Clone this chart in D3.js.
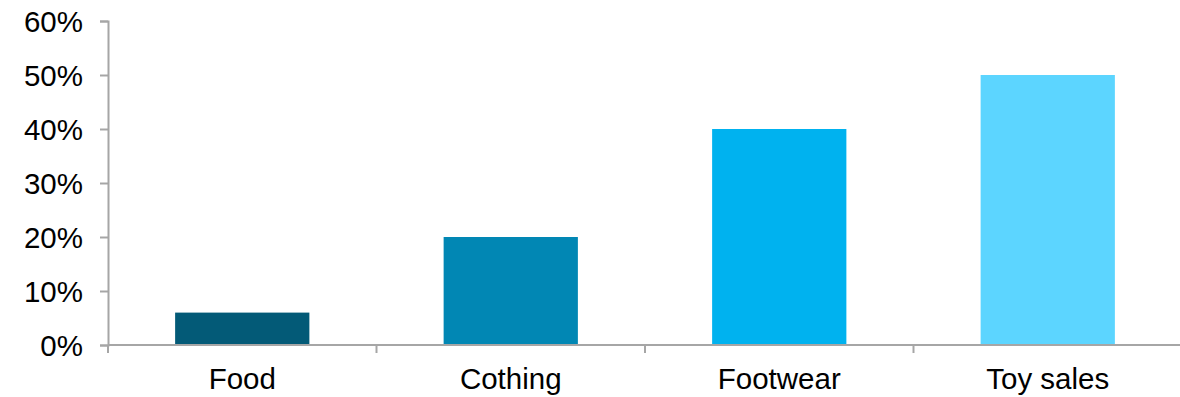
<!DOCTYPE html>
<html>
<head>
<meta charset="utf-8">
<script src="https://cdn.jsdelivr.net/npm/d3@7"></script>
<style>
  html, body { margin: 0; padding: 0; background: #fff; }
  svg { display: block; font-family: "Liberation Sans", Arial, sans-serif; }
</style>
</head>
<body>
<svg id="chart" width="1180" height="397"></svg>
<script>
// Share of sales by category
const categories = ["Food", "Cothing", "Footwear", "Toy sales"];
const values = [0.06, 0.20, 0.40, 0.50];
const barColors = ["#035a77", "#0187b4", "#00b2ef", "#5cd5ff"];
const yTicks = [0, 0.1, 0.2, 0.3, 0.4, 0.5, 0.6];

const svg = d3.select("#chart");
const axisColor = "#a6a6a6";
const fontSize = "29.5px";

const x = d3.scaleBand()
  .domain(categories)
  .range([108, 1182])
  .paddingInner(0.5)
  .paddingOuter(0.25);

const y = d3.scaleLinear()
  .domain([0, 0.6])
  .range([345, 21]);

// bars
svg.append("g")
  .selectAll("rect")
  .data(categories)
  .join("rect")
  .attr("x", d => x(d))
  .attr("width", x.bandwidth())
  .attr("y", (d, i) => y(values[i]))
  .attr("height", (d, i) => y(0) - y(values[i]))
  .attr("fill", (d, i) => barColors[i]);

// y axis
const yAxis = svg.append("g")
  .attr("transform", "translate(108,0)")
  .call(d3.axisLeft(y).tickValues(yTicks).tickFormat(d3.format(".0%")).tickSize(8).tickPadding(17));
yAxis.select(".domain").attr("stroke", axisColor).attr("stroke-width", 2);
yAxis.selectAll(".tick line").attr("stroke", axisColor).attr("stroke-width", 2);
yAxis.selectAll(".tick text")
  .attr("fill", "#000")
  .style("font-size", fontSize)
  .attr("dy", "0.35em");

// x axis: ticks at band boundaries
const xAxisG = svg.append("g").attr("transform", "translate(0,345)");
xAxisG.append("line")
  .attr("x1", 108).attr("x2", 1182)
  .attr("stroke", axisColor).attr("stroke-width", 2);
const boundaries = categories.map(c => x(c) - x.bandwidth() / 2).concat([1182]);
xAxisG.selectAll("line.tick")
  .data(boundaries)
  .join("line")
  .attr("class", "tick")
  .attr("x1", d => d).attr("x2", d => d)
  .attr("y1", 0).attr("y2", 8)
  .attr("stroke", axisColor).attr("stroke-width", 2);
xAxisG.selectAll("text")
  .data(categories)
  .join("text")
  .attr("x", d => x(d) + x.bandwidth() / 2)
  .attr("y", 44)
  .attr("text-anchor", "middle")
  .attr("fill", "#000")
  .style("font-size", fontSize)
  .text(d => d);
</script>
</body>
</html>
